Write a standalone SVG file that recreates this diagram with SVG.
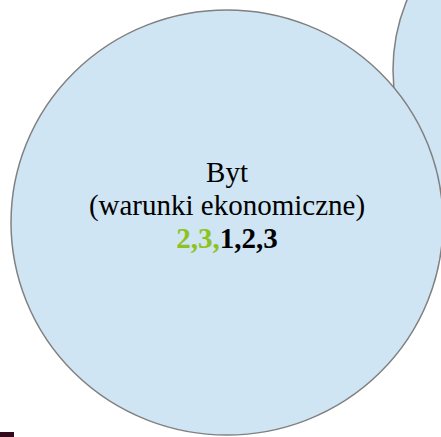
<svg xmlns="http://www.w3.org/2000/svg" width="441" height="437" viewBox="0 0 441 437">
<style>
.bub{fill:#CFE5F3;stroke:#808080;stroke-width:1.5}
.t{font-family:"Liberation Serif","Times New Roman",serif;font-size:29px;text-anchor:middle;fill:#000}
.b{font-weight:bold}
.g{fill:#8DC21F}
</style>
<rect width="441" height="437" fill="#fff"/>
<g id="node-other">
<circle class="bub" cx="575" cy="70" r="182"/>
</g>
<g id="node-byt">
<ellipse class="bub" cx="227" cy="222.5" rx="216" ry="212.5"/>
<text class="t" x="227" y="182">Byt</text>
<text class="t" x="227" y="215">(warunki ekonomiczne)</text>
<text class="t b" x="227" y="248"><tspan class="g">2,3,</tspan>1,2,3</text>
</g>
<g id="connectors"></g>
<rect x="0" y="432" width="14" height="5" fill="#330A1C"/>
</svg>
